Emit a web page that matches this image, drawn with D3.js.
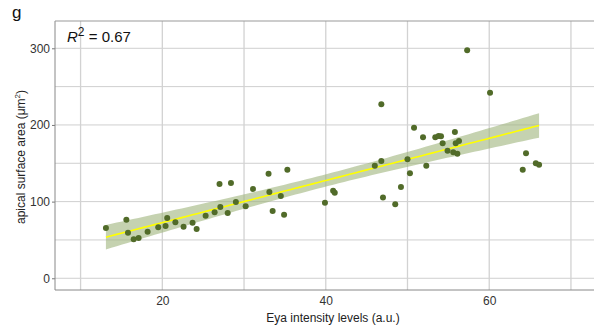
<!DOCTYPE html>
<html>
<head>
<meta charset="utf-8">
<script src="https://cdn.jsdelivr.net/npm/d3@7"></script>
<style>
  html, body { margin: 0; padding: 0; background: #fff; }
  svg { display: block; font-family: "Liberation Sans", Arial, sans-serif; }
</style>
</head>
<body>
<div id="chart"></div>
<script>
// Eya intensity (a.u.) vs apical surface area (µm²)
const eya = [13.1, 15.6, 15.8, 16.5, 17.1, 18.2, 19.5, 20.4, 20.6, 21.6,
  22.6, 23.7, 24.2, 25.3, 26.4, 27.0, 27.1, 28.0, 28.4, 29.0,
  30.2, 31.1, 33.0, 33.1, 33.5, 34.5, 34.9, 35.3, 39.9, 40.9,
  41.1, 46.0, 46.8, 46.8, 47.0, 48.5, 49.2, 50.0, 50.3, 50.8,
  51.9, 52.3, 53.4, 53.8, 54.1, 54.3, 54.9, 55.6, 55.8, 55.9,
  56.1, 56.3, 57.3, 60.1, 64.1, 64.5, 65.7, 66.1]
const area = [65.6, 76.4, 59.5, 50.9, 52.6, 60.8, 66.5, 68.2, 78.6, 73.0,
  67.3, 72.5, 64.3, 81.7, 86.0, 123.0, 93.0, 85.2, 124.3, 99.5,
  93.9, 116.5, 136.5, 112.6, 87.8, 107.3, 83.0, 141.7, 98.6, 114.3,
  111.7, 146.9, 227.0, 153.0, 105.2, 96.5, 119.0, 155.2, 137.0, 196.4,
  183.9, 146.9, 183.9, 185.6, 185.2, 176.0, 166.4, 164.3, 190.8, 176.0,
  162.5, 179.0, 297.4, 242.0, 141.6, 163.0, 150.0, 148.2]

const xTicks = [20, 40, 60]
const xGrid = [10, 20, 30, 40, 50, 60, 70]
const yTicks = [0, 100, 200, 300]
const yGrid = [0, 50, 100, 150, 200, 250, 300]
const r2Label = '0.67'

const width = 594, height = 329
const pLeft = 55, pTop = 21, pBottom = 290, pRight = 611

const x = d3.scaleLinear().domain([6.87, 74.9]).range([pLeft, pRight])
const y = d3.scaleLinear().domain([-15.3, 335.6]).range([pBottom, pTop])

const svg = d3.select('#chart').append('svg')
  .attr('width', width)
  .attr('height', height)

// 网格
const grid = svg.append('g')
grid.selectAll('.hg').data(yGrid).enter().append('line')
  .attr('x1', pLeft).attr('x2', pRight)
  .attr('y1', d => y(d)).attr('y2', d => y(d))
  .attr('stroke', '#cfcfcf').attr('stroke-width', 1)
grid.selectAll('.vg').data(xGrid).enter().append('line')
  .attr('x1', d => x(d)).attr('x2', d => x(d))
  .attr('y1', pTop).attr('y2', pBottom)
  .attr('stroke', '#d2d2d2').attr('stroke-width', 1.3)

// linear fit + 95% band
const n = eya.length
const mx = d3.mean(eya), my = d3.mean(area)
let sxx = 0, sxy = 0
eya.forEach((v, i) => { sxx += (v - mx) ** 2; sxy += (v - mx) * (area[i] - my) })
const slope = sxy / sxx
const intercept = my - slope * mx
let sse = 0
eya.forEach((v, i) => { sse += (area[i] - (intercept + slope * v)) ** 2 })
const s = Math.sqrt(sse / (n - 2))
const tq = 2.003
const xs = d3.range(0, 81).map(i => d3.min(eya) + (d3.max(eya) - d3.min(eya)) * i / 80)
const fit = xs.map(v => {
  const yh = intercept + slope * v
  const se = s * Math.sqrt(1 / n + (v - mx) ** 2 / sxx)
  return { x: v, y: yh, lo: yh - tq * se, hi: yh + tq * se }
})

svg.append('path')
  .datum(fit)
  .attr('d', d3.area().x(d => x(d.x)).y0(d => y(d.lo)).y1(d => y(d.hi)))
  .attr('fill', '#9fb47c')
  .attr('fill-opacity', 0.6)

svg.append('path')
  .datum(fit)
  .attr('d', d3.line().x(d => x(d.x)).y(d => y(d.y)))
  .attr('fill', 'none')
  .attr('stroke', '#ffff00')
  .attr('stroke-width', 1.6)

// points
svg.append('g')
  .selectAll('circle')
  .data(eya.map((v, i) => [v, area[i]]))
  .enter().append('circle')
  .attr('cx', d => x(d[0]))
  .attr('cy', d => y(d[1]))
  .attr('r', 3)
  .attr('fill', '#516b29')

// axes
const yAxis = svg.append('g')
  .attr('transform', `translate(${pLeft},0)`)
  .call(d3.axisLeft(y).tickValues(yTicks).tickSize(3).tickPadding(2))
yAxis.select('.domain').remove()
yAxis.selectAll('line').attr('stroke', '#777')
yAxis.selectAll('text').attr('font-size', 12).attr('fill', '#333').attr('font-family', 'Liberation Sans, Arial, sans-serif')

const xAxis = svg.append('g')
  .attr('transform', `translate(0,${pBottom})`)
  .call(d3.axisBottom(x).tickValues(xTicks).tickSize(0).tickPadding(6))
xAxis.select('.domain').remove()
xAxis.selectAll('text').attr('font-size', 12).attr('fill', '#333').attr('font-family', 'Liberation Sans, Arial, sans-serif')

// frame lines
svg.append('line').attr('x1', pLeft).attr('x2', pLeft).attr('y1', pTop).attr('y2', pBottom)
  .attr('stroke', '#888').attr('stroke-width', 1)
svg.append('line').attr('x1', pLeft).attr('x2', pRight).attr('y1', pBottom).attr('y2', pBottom)
  .attr('stroke', '#888').attr('stroke-width', 1)
svg.append('line').attr('x1', pLeft).attr('x2', pRight).attr('y1', pTop).attr('y2', pTop)
  .attr('stroke', '#999').attr('stroke-width', 1)

// titles
svg.append('text')
  .attr('x', 333).attr('y', 322)
  .attr('text-anchor', 'middle')
  .attr('font-size', 12).attr('fill', '#222')
  .text('Eya intensity levels (a.u.)')

const yt = svg.append('text')
  .attr('transform', 'translate(25,157) rotate(-90)')
  .attr('text-anchor', 'middle')
  .attr('font-size', 12).attr('fill', '#222')
yt.append('tspan').text('apical surface area (μm')
yt.append('tspan').attr('font-size', 8).attr('dy', -5).text('2')
yt.append('tspan').attr('dy', 5).text(')')

const r2 = svg.append('text')
  .attr('x', 67).attr('y', 42)
  .attr('font-size', 15).attr('fill', '#111')
r2.append('tspan').attr('font-style', 'italic').text('R')
r2.append('tspan').attr('font-size', 12).attr('dy', -6).text('2')
r2.append('tspan').attr('dy', 6).text(' = ' + r2Label)

svg.append('text')
  .attr('x', 12).attr('y', 18)
  .attr('font-size', 17).attr('fill', '#111')
  .text('g')
</script>
</body>
</html>
